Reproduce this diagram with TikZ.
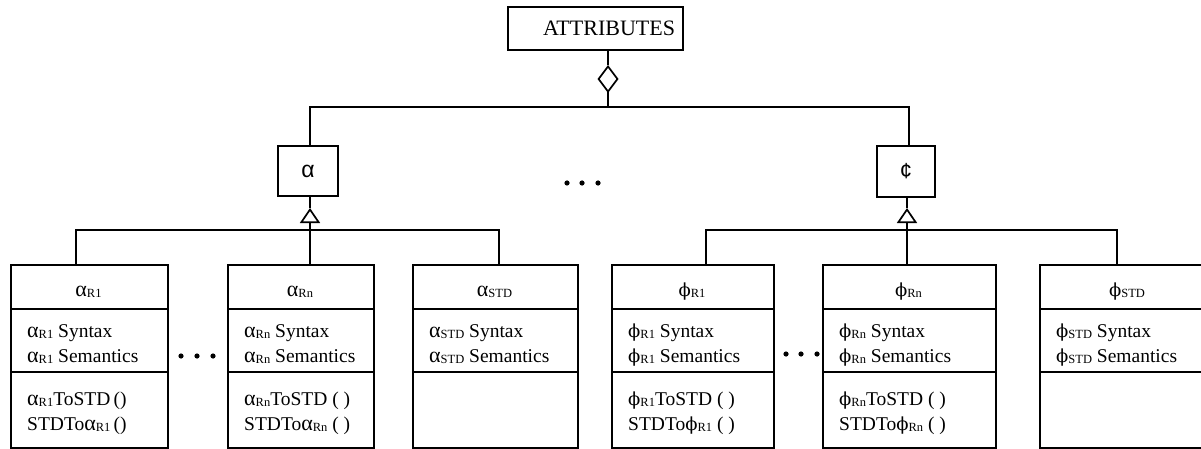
\documentclass[tikz,border=0pt]{standalone}
\usepackage{fontspec}
\setmainfont{Liberation Serif}
\setsansfont{Liberation Sans}
\newfontfamily\phifont{DejaVu Serif}
\usetikzlibrary{arrows.meta}
\newcommand{\sbs}[1]{\raisebox{-1pt}{\fontsize{12.5}{12.5}\selectfont #1}}
\newcommand{\al}{{\fontsize{22}{22}\selectfont α}}
\newcommand{\ph}{{\phifont\fontsize{18}{18}\selectfont ϕ}}
\tikzset{
  classbox/.style={draw, line width=1.7pt, inner sep=0pt, minimum height=183pt},
  smallbox/.style={draw, line width=1.7pt, inner sep=0pt},
  txt/.style={inner sep=0pt, font=\fontsize{19.5}{22}\selectfont},
  conn/.style={line width=1.7pt},
  dot/.style={fill=black},
}
\newcommand{\umlclass}[8]{%
  \node[classbox, minimum width={#3-#2}, anchor=north west] (#1) at (#2,264) {};
  \draw[conn] ([yshift=-45pt]#1.north west) -- ([yshift=-45pt]#1.north east);
  \draw[conn] ([yshift=-108pt]#1.north west) -- ([yshift=-108pt]#1.north east);
  \node[txt, anchor=base] (#1-t) at ({(#2+#3)/2},296) {#4};
  \node[txt, anchor=base west] (#1-a1) at ({#2+17},337) {#5};
  \node[txt, anchor=base west] (#1-a2) at ({#2+17},362) {#6};
  \node[txt, anchor=base west] (#1-m1) at ({#2+17},405) {#7};
  \node[txt, anchor=base west] (#1-m2) at ({#2+17},430) {#8};
}
\begin{document}
\begin{tikzpicture}[x=1pt, y=-1pt]
\useasboundingbox (0,0) rectangle (1201,449);
\clip (0,0) rectangle (1201,449);

% top class
\node[smallbox, minimum width=175pt, minimum height=43pt] (attr) at (595.5,28.5) {};
\node[txt, anchor=base, font=\fontsize{22}{24}\selectfont] (attr-t) at (609,35.5) {ATTRIBUTES};

% intermediate classes
\node[smallbox, minimum width=60pt, minimum height=50pt] (alpha) at (308,171) {};
\node[txt, font=\sffamily\fontsize{23}{24}\selectfont] (alpha-t) at (308,171) {α};
\node[smallbox, minimum width=58pt, minimum height=51pt] (phi) at (906,171.5) {};
\node[txt, font=\sffamily\fontsize{22}{24}\selectfont] (phi-t) at (906,171.5) {¢};

% leaf classes
\umlclass{aR1}{10}{167}{\al\sbs{R1}}{\al\sbs{R1} Syntax}{\al\sbs{R1} Semantics}{\al\sbs{R1}ToSTD\,()}{STDTo\al\sbs{R1}\,()}
\umlclass{aRn}{227}{373}{\al\sbs{Rn}}{\al\sbs{Rn} Syntax}{\al\sbs{Rn} Semantics}{\al\sbs{Rn}ToSTD ( )}{STDTo\al\sbs{Rn} ( )}
\umlclass{aSTD}{412}{577}{\al\sbs{STD}}{\al\sbs{STD} Syntax}{\al\sbs{STD} Semantics}{}{}
\umlclass{pR1}{611}{773}{\ph\sbs{R1}}{\ph\sbs{R1} Syntax}{\ph\sbs{R1} Semantics}{\ph\sbs{R1}ToSTD ( )}{STDTo\ph\sbs{R1} ( )}
\umlclass{pRn}{822}{995}{\ph\sbs{Rn}}{\ph\sbs{Rn} Syntax}{\ph\sbs{Rn} Semantics}{\ph\sbs{Rn}ToSTD ( )}{STDTo\ph\sbs{Rn} ( )}
\umlclass{pSTD}{1039}{1215}{\ph\sbs{STD}}{\ph\sbs{STD} Syntax}{\ph\sbs{STD} Semantics}{}{}

% aggregation (top)
\coordinate (busTL) at (310,107);
\coordinate (busTR) at (909,107);
\coordinate (dia) at (608,65);
\draw[conn] (busTL |- alpha.north) -- (busTL) -- (busTR) -- (busTR |- phi.north);
\draw[conn, -{Diamond[open, length=28pt, width=21pt, line width=1.7pt]}] (dia |- busTL) -- (dia);
\draw[conn] (dia) -- (dia |- attr.south);

% alpha generalisation
\coordinate (busA1) at (76,230);
\coordinate (busA3) at (499,230);
\coordinate (triA) at (310,208);
\draw[conn] (busA1 |- aR1.north) -- (busA1) -- (busA3) -- (busA3 |- aSTD.north);
\draw[conn, -{Triangle[open, length=15pt, width=20pt, line width=1.7pt]}] (triA |- aRn.north) -- (triA);
\draw[conn] (triA) -- (triA |- alpha.south);

% phi generalisation
\coordinate (busP1) at (706,230);
\coordinate (busP3) at (1117,230);
\coordinate (triP) at (907,208);
\draw[conn] (busP1 |- pR1.north) -- (busP1) -- (busP3) -- (busP3 |- pSTD.north);
\draw[conn, -{Triangle[open, length=15pt, width=20pt, line width=1.7pt]}] (triP |- pRn.north) -- (triP);
\draw[conn] (triP) -- (triP |- phi.south);

% ellipses
\foreach \x in {567,582,598} \fill[dot] (\x,183) circle[radius=2.6pt];
\foreach \x in {181,197,213} \fill[dot] (\x,356) circle[radius=2.6pt];
\foreach \x in {786,801,817} \fill[dot] (\x,354) circle[radius=2.6pt];
\end{tikzpicture}
\end{document}
